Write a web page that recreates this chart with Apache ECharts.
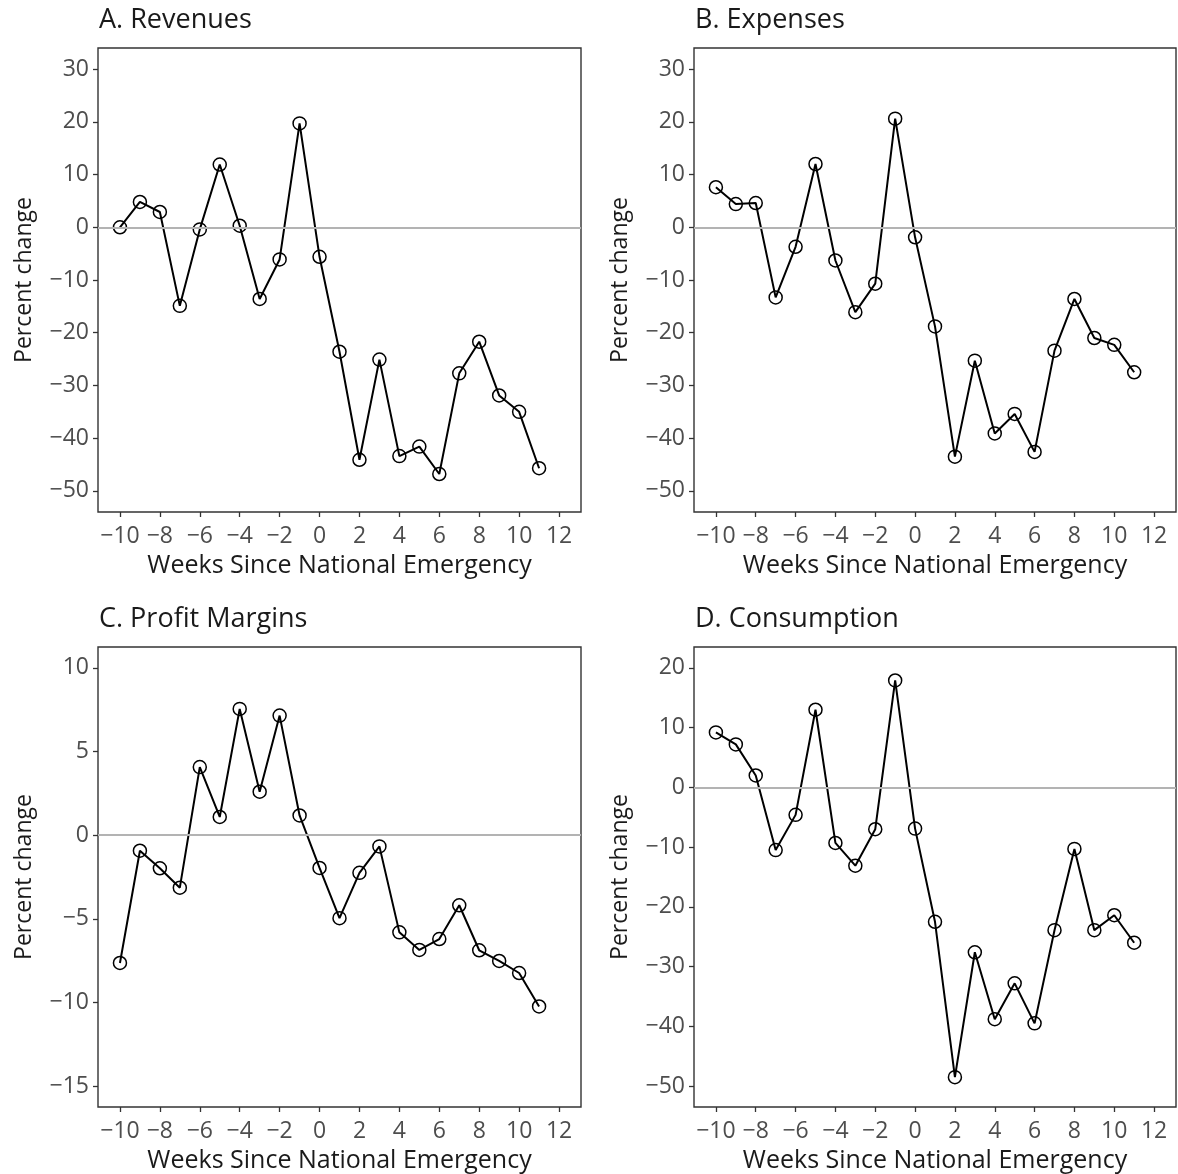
<!DOCTYPE html>
<html>
<head>
<meta charset="utf-8">
<script src="https://cdn.jsdelivr.net/npm/echarts@6/dist/echarts.min.js"></script>
<style>
html, body { margin: 0; padding: 0; background: #fff; }
#chart { width: 1178px; height: 1174px; }
</style>
</head>
<body>
<div id="chart"></div>
<script>
var weeks = [-10, -9, -8, -7, -6, -5, -4, -3, -2, -1, 0, 1, 2, 3, 4, 5, 6, 7, 8, 9, 10, 11];
var revenues = [0, 4.8, 2.9, -14.9, -0.4, 11.9, 0.3, -13.6, -6.1, 19.7, -5.6, -23.6, -44.1, -25.1, -43.4, -41.6, -46.8, -27.7, -21.7, -31.9, -35.0, -45.7];
var expenses = [7.6, 4.4, 4.6, -13.3, -3.7, 12.0, -6.3, -16.1, -10.7, 20.6, -1.9, -18.8, -43.5, -25.3, -39.1, -35.4, -42.6, -23.4, -13.6, -21.0, -22.3, -27.5];
var margins = [-7.64, -0.93, -1.98, -3.14, 4.07, 1.09, 7.55, 2.6, 7.15, 1.18, -1.96, -4.96, -2.25, -0.67, -5.81, -6.86, -6.21, -4.19, -6.88, -7.52, -8.24, -10.24];
var consumption = [9.2, 7.2, 2.0, -10.5, -4.6, 13.0, -9.3, -13.1, -7.0, 17.9, -6.9, -22.5, -48.5, -27.6, -38.8, -32.8, -39.5, -23.9, -10.3, -23.9, -21.4, -26.0];

var xTicks = [-10, -8, -6, -4, -2, 0, 2, 4, 6, 8, 10, 12];
var yTicksWide = [-50, -40, -30, -20, -10, 0, 10, 20, 30];
var yTicksMargin = [-15, -10, -5, 0, 5, 10];
var yTicksCons = [-50, -40, -30, -20, -10, 0, 10, 20];

var panels = [
    { title: 'A. Revenues', values: revenues, ticks: yTicksWide, min: -54, max: 34 },
    { title: 'B. Expenses', values: expenses, ticks: yTicksWide, min: -54, max: 34 },
    { title: 'C. Profit Margins', values: margins, ticks: yTicksMargin, min: -16.25, max: 11.25 },
    { title: 'D. Consumption', values: consumption, ticks: yTicksCons, min: -53.5, max: 23.5 }
];

var boxes = [
    { left: 98, top: 48, width: 483, height: 464 },
    { left: 694, top: 48, width: 482, height: 464 },
    { left: 98, top: 647, width: 483, height: 464 },
    { left: 694, top: 647, width: 482, height: 464 }
];

var font = 'Open Sans';

function fmt(v) {
    return v < 0 ? '\u2212' + Math.abs(v) : String(v);
}

var myChart = echarts.init(document.getElementById('chart'));

var option = {
    backgroundColor: '#fff',
    animation: false,
    title: [],
    grid: [],
    xAxis: [],
    yAxis: [],
    series: []
};

panels.forEach(function (p, i) {
    var b = boxes[i];
    option.title.push({
        text: p.title,
        left: b.left - 4,
        top: b.top - 46,
        textStyle: { fontFamily: font, fontSize: 27, fontWeight: 'normal', color: '#1a1a1a' }
    });
    option.grid.push({
        left: b.left, top: b.top, width: b.width, height: b.height,
        show: true, borderColor: '#333', borderWidth: 1.4, backgroundColor: '#fff'
    });
    option.xAxis.push({
        type: 'value', gridIndex: i, min: -11.1, max: 13.1,
        name: 'Weeks Since National Emergency', nameLocation: 'middle', nameGap: 41,
        nameTextStyle: { fontFamily: font, fontSize: 25, color: '#1a1a1a' },
        axisLine: { show: false, onZero: false },
        axisTick: { show: true, length: 5, customValues: xTicks, lineStyle: { color: '#333', width: 1.3 } },
        axisLabel: { customValues: xTicks, formatter: fmt, margin: 13, fontFamily: font, fontSize: 23, color: '#4d4d4d' },
        splitLine: { show: false }
    });
    option.yAxis.push({
        type: 'value', gridIndex: i, min: p.min, max: p.max,
        name: 'Percent change', nameLocation: 'middle', nameRotate: 90, nameGap: 62,
        nameTextStyle: { fontFamily: font, fontSize: 23, color: '#1a1a1a' },
        axisLine: { show: false, onZero: false },
        axisTick: { show: true, length: 5, customValues: p.ticks, lineStyle: { color: '#333', width: 1.3 } },
        axisLabel: { customValues: p.ticks, formatter: fmt, margin: 9, fontFamily: font, fontSize: 23, color: '#4d4d4d' },
        splitLine: { show: false }
    });
    option.series.push({
        type: 'line', xAxisIndex: i, yAxisIndex: i,
        data: weeks.map(function (w, k) { return [w, p.values[k]]; }),
        symbol: 'circle', symbolSize: 13,
        itemStyle: { color: 'rgba(0,0,0,0)', borderColor: '#000', borderWidth: 1.5 },
        lineStyle: { color: '#000', width: 2 },
        markLine: {
            silent: true, symbol: 'none', label: { show: false },
            lineStyle: { color: '#b3b3b3', type: 'solid', width: 2 },
            data: [{ yAxis: 0 }]
        },
        z: 3
    });
});

myChart.setOption(option);
</script>
</body>
</html>
